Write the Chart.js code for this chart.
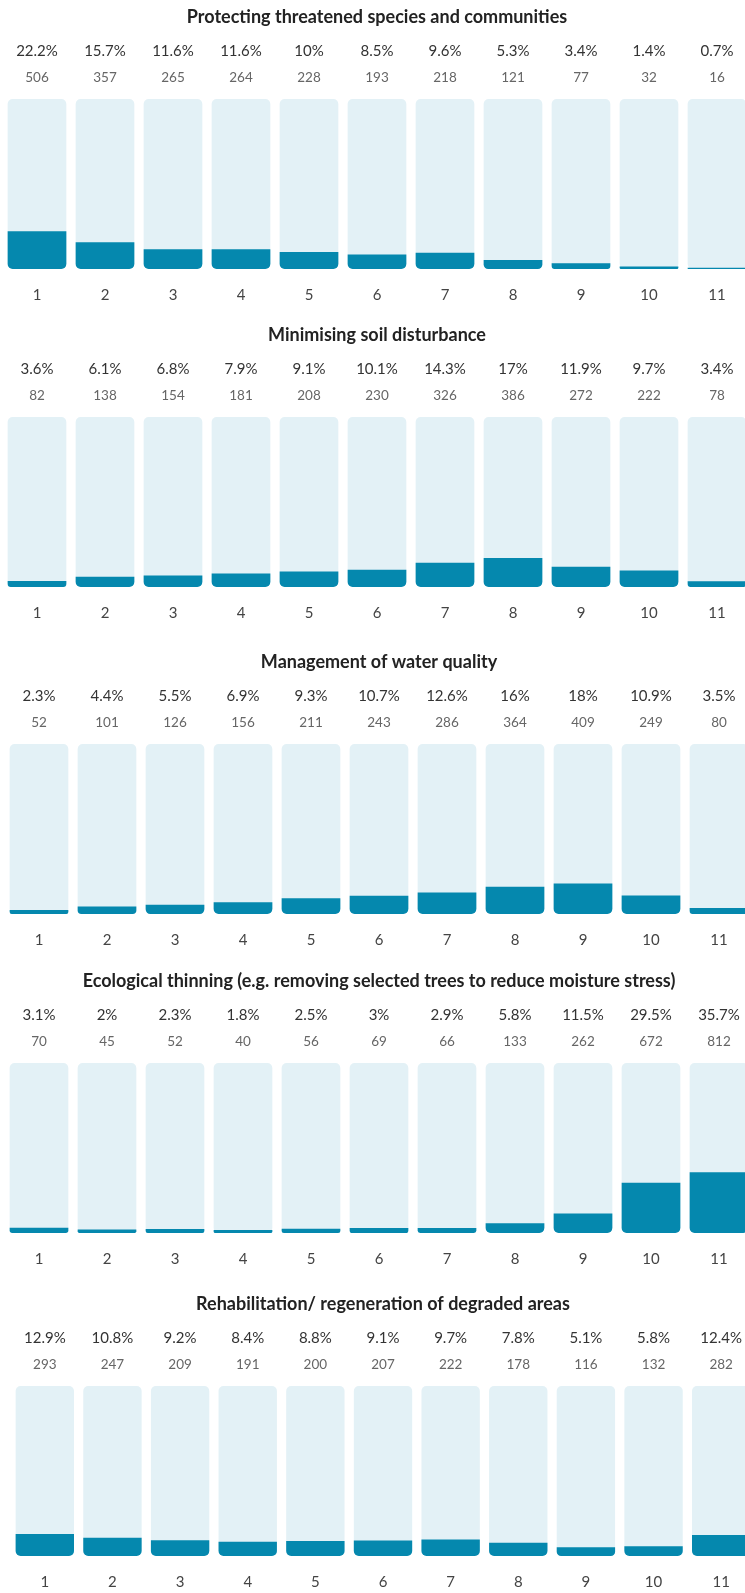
<!DOCTYPE html>
<html>
<head>
<meta charset="utf-8">
<script src="https://cdn.jsdelivr.net/npm/chart.js@4"></script>
<style>
  body { margin: 0; background: #fff; width: 745px; height: 1593px; overflow: hidden; position: relative; }
  canvas { position: absolute; }
</style>
</head>
<body>
<canvas id="c1" width="748" height="321"></canvas>
<canvas id="c2" width="748" height="321"></canvas>
<canvas id="c3" width="748" height="321"></canvas>
<canvas id="c4" width="748" height="321"></canvas>
<canvas id="c5" width="744" height="321"></canvas>
<script>
const ranks = ['1', '2', '3', '4', '5', '6', '7', '8', '9', '10', '11'];

const titleThreatened = 'Protecting threatened species and communities';
const pctThreatened = [22.2, 15.7, 11.6, 11.6, 10, 8.5, 9.6, 5.3, 3.4, 1.4, 0.7];
const nThreatened = [506, 357, 265, 264, 228, 193, 218, 121, 77, 32, 16];

const titleSoil = 'Minimising soil disturbance';
const pctSoil = [3.6, 6.1, 6.8, 7.9, 9.1, 10.1, 14.3, 17, 11.9, 9.7, 3.4];
const nSoil = [82, 138, 154, 181, 208, 230, 326, 386, 272, 222, 78];

const titleWater = 'Management of water quality';
const pctWater = [2.3, 4.4, 5.5, 6.9, 9.3, 10.7, 12.6, 16, 18, 10.9, 3.5];
const nWater = [52, 101, 126, 156, 211, 243, 286, 364, 409, 249, 80];

const titleThinning = 'Ecological thinning (e.g. removing selected trees to reduce moisture stress)';
const pctThinning = [3.1, 2, 2.3, 1.8, 2.5, 3, 2.9, 5.8, 11.5, 29.5, 35.7];
const nThinning = [70, 45, 52, 40, 56, 69, 66, 133, 262, 672, 812];

const titleRehab = 'Rehabilitation/ regeneration of degraded areas';
const pctRehab = [12.9, 10.8, 9.2, 8.4, 8.8, 9.1, 9.7, 7.8, 5.1, 5.8, 12.4];
const nRehab = [293, 247, 209, 191, 200, 207, 222, 178, 116, 132, 282];

const FULL = 100;

Chart.defaults.font.family = 'Lato, "Open Sans", sans-serif';

var drawChart = (id, top, left, title, pct, counts) => {
    const el = document.getElementById(id);
    el.style.top = top + 'px';
    el.style.left = left + 'px';
    const hidden = { display: false, drawTicks: false };
    return new Chart(el.getContext('2d'), {
        type: 'bar',
        data: {
            labels: ranks,
            datasets: [{
                // share of responses
                data: pct,
                backgroundColor: '#0588ae',
                borderRadius: { topLeft: 0, topRight: 0, bottomLeft: 5, bottomRight: 5 },
                borderSkipped: false,
                barPercentage: 0.863,
                categoryPercentage: 1
            }, {
                // pale track behind each bar
                data: pct.map(() => FULL),
                backgroundColor: '#e3f1f6',
                borderRadius: 5,
                borderSkipped: false,
                barPercentage: 0.863,
                categoryPercentage: 1
            }]
        },
        options: {
            responsive: false,
            animation: false,
            devicePixelRatio: 1,
            layout: { padding: 0 },
            plugins: {
                legend: { display: false },
                tooltip: { enabled: false },
                title: {
                    display: true,
                    text: title,
                    color: '#222',
                    font: { size: 18, weight: 'bold', lineHeight: 1.2 },
                    padding: { top: 6.2, bottom: 14.2 }
                }
            },
            scales: {
                x: {
                    stacked: true,
                    offset: true,
                    grid: hidden,
                    border: { display: false },
                    ticks: { color: '#444', font: { size: 15 }, padding: 17, autoSkip: false, maxRotation: 0 }
                },
                xPct: {
                    type: 'category',
                    position: 'top',
                    labels: pct.map(v => v + '%'),
                    weight: 2,
                    offset: true,
                    grid: hidden,
                    border: { display: false },
                    ticks: { color: '#333', font: { size: 15 }, padding: 0, autoSkip: false, maxRotation: 0 }
                },
                // counts row; invisible tick marks leave the gap above the bars
                xCount: {
                    type: 'category',
                    position: 'top',
                    labels: counts.map(String),
                    weight: 1,
                    offset: true,
                    grid: { display: true, drawOnChartArea: false, drawTicks: true, tickLength: 3, color: 'rgba(0,0,0,0)' },
                    border: { display: false },
                    ticks: { color: '#666', font: { size: 13.5 }, padding: 9.9, autoSkip: false, maxRotation: 0 }
                },
                y: { display: false, stacked: false, min: 0, max: FULL }
            }
        }
    });
}

drawChart('c1', 0, 3, titleThreatened, pctThreatened, nThreatened);
drawChart('c2', 318, 3, titleSoil, pctSoil, nSoil);
drawChart('c3', 645, 5, titleWater, pctWater, nWater);
drawChart('c4', 964, 5, titleThinning, pctThinning, nThinning);
drawChart('c5', 1287, 11, titleRehab, pctRehab, nRehab);
</script>
</body>
</html>
